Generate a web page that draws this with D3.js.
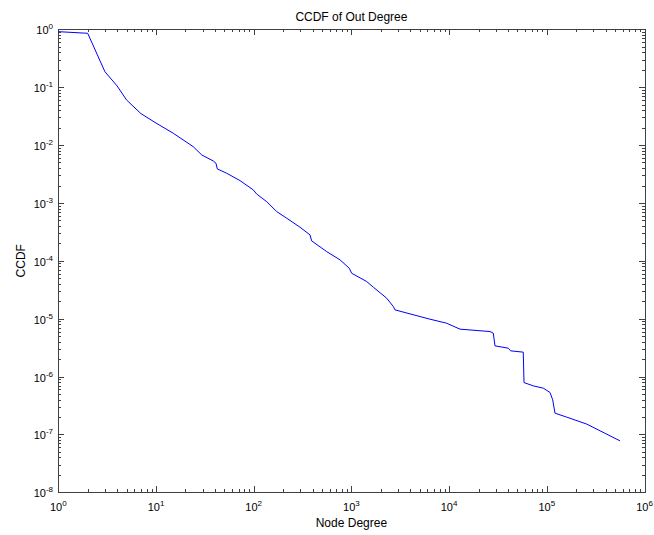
<!DOCTYPE html>
<html><head><meta charset="utf-8">
<script src="https://cdn.jsdelivr.net/npm/d3@7"></script>
<style>body{margin:0;background:#fff}svg{display:block}text{font-family:"Liberation Sans",Arial,sans-serif}</style>
</head><body><svg id="c" width="654" height="535"></svg>
<script>
const title = "CCDF of Out Degree";
const xLabel = "Node Degree";
const yLabel = "CCDF";
const degree = [1,2,3,4,5,7,10,15,24,29.4,38.6,41.1,42.4,52.9,72.4,99,107,136,172,218,298,377,392,559,764,951,1006,1435,1676,2297,2686,2793,3980,6370,9440,12930,26230,28330,29490,40370,42700,57420,58430,72800,92100,107900,114900,121300,159900,256000,561000];
const ccdf = [0.91,0.853,0.185,0.105,0.060,0.035,0.024,0.016,0.0094,0.00675,0.0053,0.00485,0.00387,0.00326,0.00243,0.00168,0.00143,0.00105,0.000708,0.000544,0.00038,0.00028,0.000221,0.000144,0.000104,7.45e-5,6.1e-5,4.38e-5,3.5e-5,2.26e-5,1.62e-5,1.42e-5,1.21e-5,9.8e-6,8.35e-6,6.59e-6,5.99e-6,5.62e-6,3.39e-6,3.09e-6,2.78e-6,2.64e-6,7.87e-7,6.9e-7,6.3e-7,5.3e-7,3.96e-7,2.33e-7,1.99e-7,1.51e-7,7.75e-8];
const xTickExps = [0,1,2,3,4,5,6];
const yTickExps = [0,-1,-2,-3,-4,-5,-6,-7,-8];

const L=58.3, R=644.5, T=29.3, B=492.3;
const svg = d3.select("#c");
const x = d3.scaleLog().domain([1,1e6]).range([L,R]);
const y = d3.scaleLog().domain([1e-8,1]).range([B,T]);
const axisCol = "#404040";

// minor & major ticks
const minorX = [], minorY = [];
for (let e=0;e<6;e++) for (let m=2;m<=9;m++) minorX.push(m*Math.pow(10,e));
for (let e=-8;e<0;e++) for (let m=2;m<=9;m++) minorY.push(m*Math.pow(10,e));
const g = svg.append("g").attr("stroke",axisCol).attr("stroke-width",1).attr("shape-rendering","crispEdges");
const majL=6, minL=3;
xTickExps.forEach(e=>{const px=Math.round(x(Math.pow(10,e)))+0.5;
  g.append("line").attr("x1",px).attr("x2",px).attr("y1",B).attr("y2",B-majL);
  g.append("line").attr("x1",px).attr("x2",px).attr("y1",T).attr("y2",T+majL);});
minorX.forEach(v=>{const px=Math.round(x(v))+0.5;
  g.append("line").attr("x1",px).attr("x2",px).attr("y1",B).attr("y2",B-minL);
  g.append("line").attr("x1",px).attr("x2",px).attr("y1",T).attr("y2",T+minL);});
yTickExps.forEach(e=>{const py=Math.round(y(Math.pow(10,e)))+0.5;
  g.append("line").attr("x1",L).attr("x2",L+majL).attr("y1",py).attr("y2",py);
  g.append("line").attr("x1",R).attr("x2",R-majL).attr("y1",py).attr("y2",py);});
minorY.forEach(v=>{const py=Math.round(y(v))+0.5;
  g.append("line").attr("x1",L).attr("x2",L+minL).attr("y1",py).attr("y2",py);
  g.append("line").attr("x1",R).attr("x2",R-minL).attr("y1",py).attr("y2",py);});
g.append("rect").attr("x",Math.round(L)+0.5).attr("y",Math.round(T)+0.5)
  .attr("width",Math.round(R)-Math.round(L)).attr("height",Math.round(B)-Math.round(T)).attr("fill","none");

// line
const line = d3.line().x((d,i)=>x(degree[i])).y((d,i)=>y(ccdf[i]));
svg.append("path").datum(degree).attr("d",line).attr("fill","none").attr("stroke","#0000ff").attr("stroke-width",1);

// tick labels
xTickExps.forEach(e=>{
  const t = svg.append("text").attr("x",x(Math.pow(10,e))).attr("y",511).attr("text-anchor","middle").attr("font-size",11).attr("fill","#000");
  t.append("tspan").text("10");
  t.append("tspan").attr("dy",-5).attr("font-size",8).text(String(e));
});
yTickExps.forEach(e=>{
  const t = svg.append("text").attr("x",53).attr("y",y(Math.pow(10,e))+5).attr("text-anchor","end").attr("font-size",11).attr("fill","#000");
  t.append("tspan").text("10");
  t.append("tspan").attr("dy",-5).attr("font-size",8).text(String(e));
});

svg.append("text").attr("x",(L+R)/2).attr("y",21).attr("text-anchor","middle").attr("font-size",12).text(title);
svg.append("text").attr("x",(L+R)/2).attr("y",527).attr("text-anchor","middle").attr("font-size",12).text(xLabel);
svg.append("text").attr("transform",`translate(25,${(T+B)/2}) rotate(-90)`).attr("text-anchor","middle").attr("font-size",12).text(yLabel);
</script></body></html>
